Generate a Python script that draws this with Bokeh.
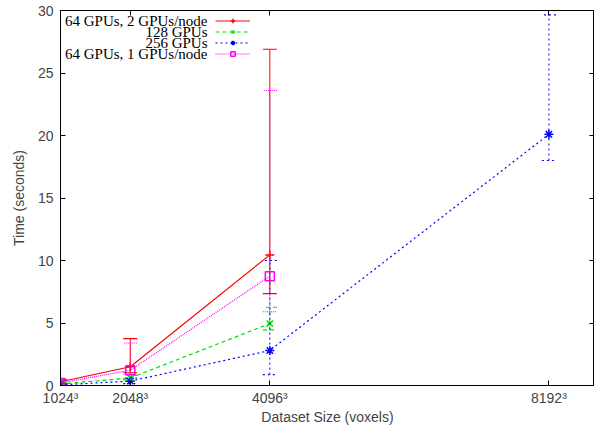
from bokeh.plotting import figure
from bokeh.models import (ColumnDataSource, Whisker, TeeHead, Range1d, FixedTicker,
                          LinearAxis, Legend, LegendItem, Label)
from bokeh.embed import file_html
from bokeh.resources import INLINE

# ---- data ----
tick_values = [1024, 2048, 4096, 8192]
tick_labels = ["1024³", "2048³", "4096³", "8192³"]
y_ticks = [0, 5, 10, 15, 20, 25, 30]

series_names = ["64 GPUs, 2 GPUs/node", "128 GPUs", "256 GPUs", "64 GPUs, 1 GPUs/node"]

x_64_2 = [1024, 2048, 4096]
t_64_2 = [0.30, 1.50, 10.45]
lo_64_2 = [0.15, 1.02, 7.35]
hi_64_2 = [0.45, 3.75, 26.9]

x_128 = [1024, 2048, 4096]
t_128 = [0.12, 0.60, 4.95]
lo_128 = [0.05, 0.45, 4.45]
hi_128 = [0.22, 0.80, 6.26]

x_256 = [1024, 2048, 4096, 8192]
t_256 = [0.05, 0.35, 2.80, 20.1]
lo_256 = [0.02, 0.15, 0.87, 18.0]
hi_256 = [0.10, 0.60, 10.0, 29.65]

x_64_1 = [1024, 2048, 4096]
t_64_1 = [0.20, 1.22, 8.75]
lo_64_1 = [0.10, 0.90, 5.90]
hi_64_1 = [0.40, 3.40, 23.6]

colors = ["#ff0000", "#00e000", "#0000ff", "#ff00ff"]
dashes = ["solid", "4 3", "2 3", "1 1"]
markers = ["cross", "x", "asterisk", "square"]

W, H = 594, 427
FRAME_H = 376  # expected plot-area height, used to place the legend from the top

p = figure(width=W, height=H, output_backend="svg", toolbar_location=None,
           x_range=Range1d(1024, 8861), y_range=Range1d(0, 30),
           min_border_left=60, min_border_right=0, min_border_top=10, min_border_bottom=38)
p.xgrid.visible = False
p.ygrid.visible = False
p.outline_line_color = "black"
p.outline_line_width = 1
p.background_fill_color = "white"
p.border_fill_color = "white"

FONT = "Liberation Sans"

p.xaxis.ticker = FixedTicker(ticks=tick_values)
p.xaxis.major_label_overrides = {v: l for v, l in zip(tick_values, tick_labels)}
p.yaxis.ticker = FixedTicker(ticks=y_ticks)
for ax in (p.xaxis[0], p.yaxis[0]):
    ax.major_tick_in = 5
    ax.major_tick_out = 0
    ax.minor_tick_line_color = None
    ax.major_label_text_font = FONT
    ax.major_label_text_font_size = "14px"
    ax.axis_label_text_font = FONT
    ax.axis_label_text_font_size = "14px"
    ax.axis_label_text_font_style = "normal"
    ax.axis_line_color = "black"
    ax.major_tick_line_color = "black"
p.xaxis.axis_label = "Dataset Size (voxels)"
p.yaxis.axis_label = "Time (seconds)"
p.xaxis.major_label_standoff = 4
p.xaxis.axis_label_standoff = 0
p.yaxis.major_label_standoff = 7
p.yaxis.axis_label_standoff = 8

# mirrored ticks (no labels)
top = LinearAxis(ticker=FixedTicker(ticks=tick_values),
                 major_label_overrides={v: "" for v in tick_values},
                 major_tick_in=5, major_tick_out=0, minor_tick_line_color=None,
                 major_label_standoff=0)
right = LinearAxis(ticker=FixedTicker(ticks=y_ticks),
                   major_label_overrides={v: "" for v in y_ticks},
                   major_tick_in=5, major_tick_out=0, minor_tick_line_color=None,
                   major_label_standoff=0)
p.add_layout(top, "above")
p.add_layout(right, "right")

data = [
    (x_64_2, t_64_2, lo_64_2, hi_64_2),
    (x_128, t_128, lo_128, hi_128),
    (x_256, t_256, lo_256, hi_256),
    (x_64_1, t_64_1, lo_64_1, hi_64_1),
]

items = []
for (xs, ts, los, his), c, d, m in zip(data, colors, dashes, markers):
    src = ColumnDataSource(dict(x=xs, t=ts, lo=los, hi=his))
    w = Whisker(base="x", lower="lo", upper="hi", source=src, level="glyph",
                line_color=c, line_dash=d, line_width=1,
                upper_head=TeeHead(size=14, line_color=c, line_dash=d, line_width=1.2),
                lower_head=TeeHead(size=14, line_color=c, line_dash=d, line_width=1.2))
    p.add_layout(w)
    lr = p.line("x", "t", source=src, line_color=c, line_dash=d, line_width=1.2)
    if m == "square":
        sr = p.scatter("x", "t", source=src, marker=m, size=9, line_color=c,
                       fill_color=None, line_width=1.5)
    else:
        sr = p.scatter("x", "t", source=src, marker=m, size=9, line_color=c,
                       fill_color=c, line_width=1.5)
    items.append(LegendItem(label="", renderers=[lr, sr]))

ROW = 11
legend = Legend(items=items, location=(155, FRAME_H - 6 - 4 * ROW), glyph_width=35,
                glyph_height=ROW, label_height=ROW, label_width=0, spacing=0, padding=0,
                margin=0, label_standoff=0, border_line_color=None, background_fill_alpha=0)
p.add_layout(legend)

for i, name in enumerate(series_names):
    p.add_layout(Label(x=147, y=FRAME_H - 11.5 - i * ROW, x_units="screen", y_units="screen",
                       text=name, text_align="right", text_baseline="middle",
                       text_font="Liberation Serif", text_font_size="15px",
                       text_color="black"))

open("out.html", "w").write(file_html(p, INLINE))
